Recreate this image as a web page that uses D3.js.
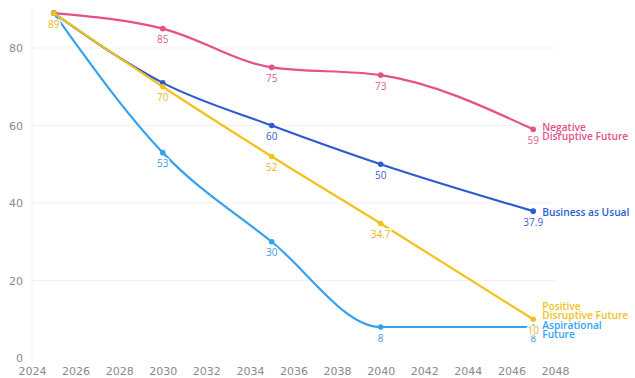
<!DOCTYPE html>
<html>
<head>
<meta charset="utf-8">
<script src="https://cdn.jsdelivr.net/npm/d3@7/dist/d3.min.js"></script>
<style>
  html, body { margin: 0; padding: 0; background: #fff; }
  svg { display: block; font-family: "Open Sans", "Noto Sans", sans-serif; }
</style>
</head>
<body>
<svg id="chart" width="635" height="378"></svg>
<script>
// Scenario index values by year
const years = [2025, 2030, 2035, 2040, 2047];
const negativeDisruptive = [89, 85, 75, 73, 59];
const businessAsUsual = [89, 71, 60, 50, 37.9];
const aspirational = [89, 53, 30, 8, 8];
const positiveDisruptive = [89, 70, 52, 34.7, 10];

const xTicks = [2024, 2026, 2028, 2030, 2032, 2034, 2036, 2038, 2040, 2042, 2044, 2046, 2048];
const yTicks = [0, 20, 40, 60, 80];

// Drawing order: later series sit on top
const series = [
  { name: ["Negative", "Disruptive Future"], values: negativeDisruptive, color: "#e4508a", labelColor: "#d9608f", nameDy: -2 },
  { name: ["Business as Usual"], values: businessAsUsual, color: "#2f5bd2", labelColor: "#3a63c8", nameDy: 1, hideFirst: [0, 1] },
  { name: ["Aspirational", "Future"], values: aspirational, color: "#35a2ef", labelColor: "#3d9ee6", nameDy: -1.5, hideFirst: [0] },
  { name: ["Positive", "Disruptive Future"], values: positiveDisruptive, color: "#f0c21c", labelColor: "#e8b81a", nameDy: -12.5 }
];

const svg = d3.select("#chart");
const x = d3.scaleLinear().domain([2024, 2048]).range([32, 555]);
const y = d3.scaleLinear().domain([0, 90]).range([358, 9.25]);

// Grid
const grid = svg.append("g");
grid.selectAll("line.h").data(yTicks.filter(d => d > 0)).join("line")
  .attr("x1", x(2024)).attr("x2", x(2048))
  .attr("y1", d => y(d)).attr("y2", d => y(d))
  .attr("stroke", "#f1f1f1").attr("stroke-width", 1);
grid.append("line")
  .attr("x1", x(2024)).attr("x2", x(2024))
  .attr("y1", y(90)).attr("y2", y(0))
  .attr("stroke", "#f3f3f3").attr("stroke-width", 1);

// Axes
const tickFont = "'DejaVu Sans', sans-serif";
const yAxis = d3.axisLeft(y).tickValues(yTicks).tickSize(0).tickPadding(9);
svg.append("g").attr("transform", `translate(${x(2024)},0)`).call(yAxis)
  .call(g => g.select(".domain").remove())
  .call(g => g.selectAll("text").attr("fill", "#8a8a8a").attr("font-size", 11).attr("font-family", tickFont));

const xAxis = d3.axisBottom(x).tickValues(xTicks).tickFormat(d3.format("d")).tickSize(0).tickPadding(9);
svg.append("g").attr("transform", `translate(0,${y(0)})`).call(xAxis)
  .call(g => g.select(".domain").remove())
  .call(g => g.selectAll("text").attr("fill", "#8a8a8a").attr("font-size", 11).attr("font-family", tickFont));

const line = d3.line()
  .x((d, i) => x(years[i]))
  .y(d => y(d))
  .curve(d3.curveMonotoneX);

series.forEach(s => {
  const g = svg.append("g");
  g.append("path")
    .attr("d", line(s.values))
    .attr("fill", "none")
    .attr("stroke", s.color)
    .attr("stroke-width", 2.2);

  g.selectAll("circle").data(s.values).join("circle")
    .attr("cx", (d, i) => x(years[i]))
    .attr("cy", d => y(d))
    .attr("r", 2.8)
    .attr("fill", s.color);

  // Value labels under each point
  g.selectAll("text.value").data(s.values.map((v, i) => ({ v, i }))
      .filter(d => !(s.hideFirst || []).includes(d.i)))
    .join("text")
    .attr("class", "value")
    .attr("x", d => x(years[d.i]))
    .attr("y", d => y(d.v) + 11)
    .attr("dy", "0.35em")
    .attr("text-anchor", "middle")
    .attr("font-size", 10)
    .attr("fill", s.labelColor)
    .attr("stroke", "#fff")
    .attr("stroke-width", 3)
    .attr("paint-order", "stroke")
    .text(d => d.v);

  // Series name at the end of the line
  const last = s.values[s.values.length - 1];
  const t = g.append("text")
    .attr("x", x(years[years.length - 1]) + 9)
    .attr("y", y(last) + s.nameDy)
    .attr("font-size", 10.2)
    .attr("font-weight", 600)
    .attr("fill", s.color);
  s.name.forEach((n, k) => {
    t.append("tspan")
      .attr("x", x(years[years.length - 1]) + 9)
      .attr("dy", k === 0 ? "0.35em" : "0.86em")
      .text(n);
  });
});
</script>
</body>
</html>
